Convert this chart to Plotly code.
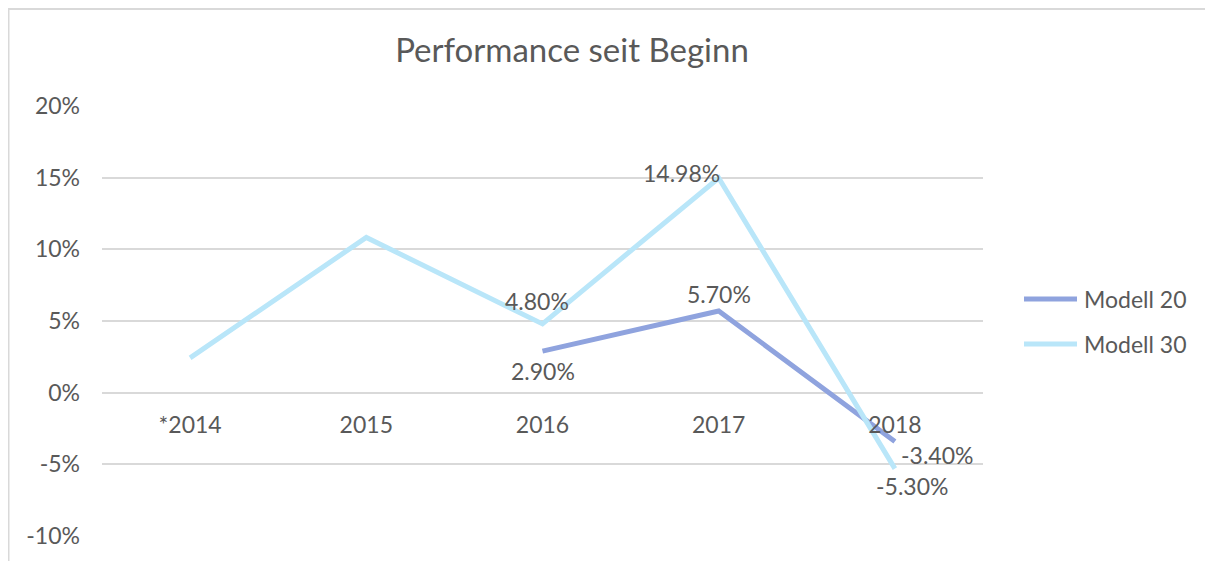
import plotly.graph_objects as go

categories = ["*2014", "2015", "2016", "2017", "2018"]
series_names = ["Modell 20", "Modell 30"]
modell20 = [None, None, 2.9, 5.7, -3.4]
modell30 = [2.43, 10.83, 4.8, 14.98, -5.3]
y_ticks = [-10, -5, 0, 5, 10, 15, 20]
y_tick_labels = ["-10%", "-5%", "0%", "5%", "10%", "15%", "20%"]

# labelled points: (category index, xshift px, yshift px)
labels20 = [(2, 0, -20), (3, 0, 17), (4, 42, -14)]
labels30 = [(2, -6, 23), (3, -37, 5), (4, 17, -17)]

FONT = "Lato, 'Noto Sans', sans-serif"
GREY = "#595959"
COLORS = ["#8FA3DE", "#B9E6F9"]
FS = 23

# page body has an 8px margin; figure is laid out to compensate
W, H = 1205, 553
ML, MR, MT, MB = 94, 230, 98, 23
PW, PH = W - ML - MR, H - MT - MB


def px2paper_x(fx):
    return (fx - ML) / PW


def px2paper_y(fy):
    return (H - MB - fy) / PH


fig = go.Figure()
for name, vals, col in zip(series_names, (modell20, modell30), COLORS):
    fig.add_trace(go.Scatter(x=list(range(len(categories))), y=vals, mode="lines",
                             name=name, line=dict(color=col, width=5),
                             connectgaps=False, showlegend=False))

annotations = []
for vals, specs in ((modell20, labels20), (modell30, labels30)):
    for i, dx, dy in specs:
        annotations.append(dict(x=i, y=vals[i], xref="x", yref="y",
                                text=f"{vals[i]:.2f}%",
                                showarrow=False, xshift=dx, yshift=dy,
                                font=dict(family=FONT, size=FS, color=GREY)))

# manual legend
legend_rows_y = [292, 337]
shapes = []
for name, col, fy in zip(series_names, COLORS, legend_rows_y):
    shapes.append(dict(type="line", xref="paper", yref="paper",
                       x0=px2paper_x(1016), x1=px2paper_x(1069),
                       y0=px2paper_y(fy), y1=px2paper_y(fy),
                       line=dict(color=col, width=5)))
    annotations.append(dict(xref="paper", yref="paper", x=px2paper_x(1074),
                            y=px2paper_y(fy), xanchor="left", yanchor="middle",
                            text=name, showarrow=False,
                            font=dict(family=FONT, size=FS, color=GREY)))

# chart border
shapes.append(dict(type="rect", xref="paper", yref="paper",
                   x0=px2paper_x(0), x1=px2paper_x(W + 10),
                   y0=px2paper_y(H + 10), y1=px2paper_y(0),
                   line=dict(color="#D9D9D9", width=3),
                   fillcolor="rgba(0,0,0,0)", layer="below"))

fig.update_layout(
    width=W, height=H,
    paper_bgcolor="white", plot_bgcolor="white",
    margin=dict(l=ML, r=MR, t=MT, b=MB),
    title=dict(text="Performance seit Beginn", x=(572 - 8) / W, xanchor="center",
               xref="container", y=1 - 42 / H, yref="container", yanchor="middle",
               font=dict(family=FONT, size=33, color=GREY)),
    xaxis=dict(range=[-0.5, len(categories) - 0.5],
               tickvals=list(range(len(categories))), ticktext=categories,
               showgrid=False, showline=False, zeroline=False, ticks="",
               anchor="free", position=1 / 3, ticklabelstandoff=16,
               tickfont=dict(family=FONT, size=FS, color=GREY)),
    yaxis=dict(range=[-10, 20], tickvals=y_ticks, ticktext=y_tick_labels,
               showgrid=True, gridcolor="#D9D9D9", gridwidth=2, zeroline=False,
               showline=False, ticklabelstandoff=21,
               tickfont=dict(family=FONT, size=FS, color=GREY)),
    annotations=annotations,
    shapes=shapes,
    showlegend=False,
)

fig.write_html("out.html")
